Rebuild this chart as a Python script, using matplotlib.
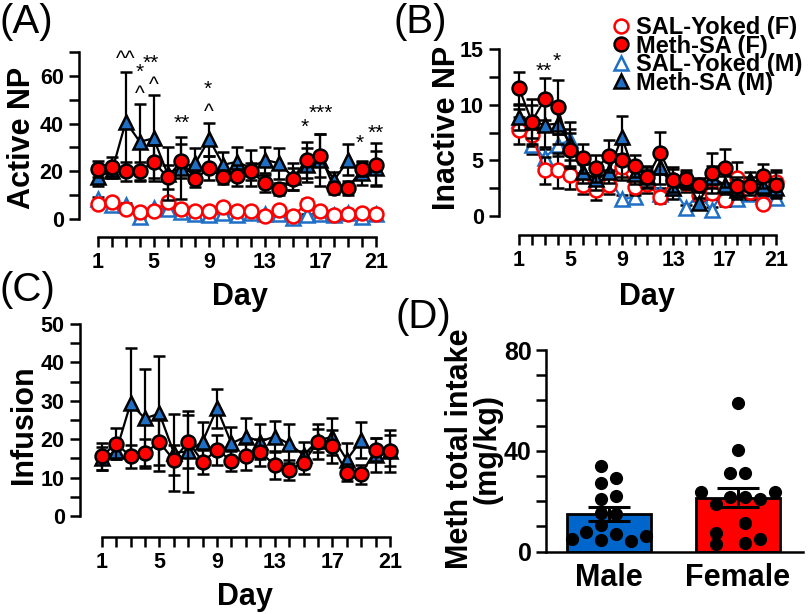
import numpy as np
import matplotlib
matplotlib.use("Agg")
import matplotlib.pyplot as plt
from matplotlib.lines import Line2D

plt.rcParams['font.family'] = ['Liberation Sans', 'DejaVu Sans']

days = np.arange(1, 22)

# (A) active nose pokes, mean and SEM per day
a_sal_f = [6.3, 7.0, 4.2, 3.1, 3.4, 7.0, 4.2, 3.4, 3.4, 4.9, 3.5, 3.5, 1.4, 3.8, 1.4, 6.2, 3.4, 1.7, 2.0, 2.4, 2.1]
a_sal_f_sem = [1.0, 1.0, 1.0, 0.8, 0.8, 1.5, 1.0, 0.8, 0.8, 1.0, 0.8, 0.8, 0.5, 0.8, 0.5, 2.2, 0.8, 0.5, 0.5, 0.5, 0.5]
a_meth_f = [21, 22, 20, 20, 24, 17.5, 24.3, 16.8, 21.3, 17.5, 18.2, 20, 15, 12.6, 16.8, 24.8, 26.6, 12.9, 13.1, 21, 22.7]
a_meth_f_sem = [3.5, 4, 4, 4, 7, 5, 7, 3.5, 5, 3, 4.5, 3.5, 3.5, 2.5, 4.5, 7.5, 9, 2.5, 3, 3, 9]
a_sal_m = [8.5, 6, 6, 1, 4.5, 4, 3, 2, 1.5, 2.5, 1.5, 2.5, 2, 2, 0.5, 1.5, 2, 1.5, 2.5, 1, 2]
a_sal_m_sem = [0.8, 0.6, 0.6, 0.4, 0.6, 0.6, 0.5, 0.4, 0.4, 0.5, 0.4, 0.5, 0.4, 0.4, 0.3, 0.4, 0.4, 0.4, 0.5, 0.3, 0.4]
a_meth_m = [17.8, 20, 40.8, 32.4, 33.8, 19, 21.5, 23.4, 33.4, 22.7, 24, 21.3, 24.8, 23.4, 17.8, 22.7, 24.8, 16.4, 24.8, 19.2, 21.3]
a_meth_m_sem = [4, 3, 21, 16, 18, 11, 13, 6.5, 7, 5.5, 6, 7.5, 5.5, 6.5, 5.5, 7, 11, 3.5, 6.5, 5, 7]

# (B) inactive nose pokes
b_sal_f = [7.7, 7.3, 4.1, 4.1, 3.7, 2.8, 2.3, 2.8, 4.4, 2.6, 2.9, 1.7, 3.2, 3.0, 1.9, 2.1, 1.4, 3.4, 2.2, 1.1, 3.1]
b_sal_f_sem = [1.2, 1.0, 1.2, 1.6, 1.3, 0.8, 0.9, 0.8, 1.2, 0.7, 0.8, 0.5, 1.2, 0.8, 0.5, 0.6, 0.5, 1.5, 0.7, 0.3, 1.0]
b_meth_f = [11.5, 8.5, 10.5, 9.8, 5.9, 5.2, 4.3, 5.4, 5.0, 4.5, 3.5, 5.7, 3.2, 3.3, 2.8, 3.9, 4.3, 2.7, 2.7, 3.6, 2.8]
b_meth_f_sem = [1.5, 2.0, 1.9, 2.4, 1.6, 1.3, 1.2, 1.4, 1.5, 1.0, 1.0, 1.9, 1.0, 0.8, 0.6, 1.8, 1.7, 0.8, 0.8, 1.1, 1.2]
b_sal_m = [8.6, 6.4, 5.2, 6.4, 6.8, 4.0, 3.0, 3.5, 1.5, 1.7, 3.5, 2.0, 2.5, 0.7, 2.0, 0.5, 2.5, 1.5, 2.0, 1.8, 1.6]
b_sal_m_sem = [1.0, 0.8, 0.8, 1.0, 1.0, 0.7, 0.6, 0.6, 0.4, 0.4, 0.6, 0.5, 0.5, 0.3, 0.5, 0.3, 0.5, 0.4, 0.4, 0.4, 0.4]
b_meth_m = [8.9, 8.5, 8.2, 8.3, 6.5, 4.0, 3.3, 4.0, 7.1, 3.8, 3.5, 4.4, 2.5, 3.2, 1.2, 3.5, 2.8, 2.3, 3.2, 2.7, 2.5]
b_meth_m_sem = [1.2, 1.5, 2.0, 1.8, 2.0, 1.0, 1.0, 1.0, 1.9, 0.9, 0.9, 1.5, 1.0, 0.8, 0.4, 1.0, 0.8, 0.8, 0.8, 0.8, 0.8]

# (C) infusions
c_meth_f = [15.6, 18.8, 15.6, 16.5, 19.2, 14.6, 19.4, 14.1, 17.2, 14.4, 15.5, 16.6, 13.3, 12.0, 13.9, 19.4, 18.1, 11.3, 10.9, 17.2, 17.0]
c_meth_f_sem = [3.5, 4, 3, 3.5, 6, 4, 7, 3.2, 4, 2.6, 3.5, 3.5, 3.6, 2.5, 3, 4.5, 4.2, 2.3, 2.5, 3, 5.5]
c_meth_m = [15, 16.8, 29.3, 25.4, 26.7, 16.5, 16.8, 19.4, 28, 18.9, 20.7, 19.4, 20.7, 18.8, 15.9, 19.6, 20.7, 14.6, 19.8, 15.9, 17]
c_meth_m_sem = [3, 2, 14.5, 12.8, 15, 10, 10.5, 5.2, 5.2, 4.2, 4.7, 4.6, 4.1, 5.1, 3.5, 3, 4.7, 4.3, 4.8, 4.5, 4]

# (D) total meth intake per animal (mg/kg)
groups = ['Male', 'Female']
male_intake = [34.0, 27.4, 29.4, 20.8, 21.9, 15.2, 15.0, 10.6, 8.0, 7.0, 4.9, 4.6, 4.4, 6.2]
female_intake = [59.0, 40.4, 31.4, 31.4, 23.6, 23.6, 21.5, 21.6, 20.8, 18.8, 11.3, 7.6, 4.9, 3.6, 2.9]
# swarm slots (in dot widths) so the dots sit side by side like the original
male_slots = [-0.5, -0.5, 0.5, -0.5, 0.5, -0.5, 0.5, -0.5, -1.5, 0.5, -2.5, -0.5, 1.5, 2.5]
female_slots = [0, 0, -0.5, 0.5, -2.5, 2.5, -0.5, 0.5, 1.5, -1.5, 0.5, -1.5, 1.5, 0.5, -1.5]

# significance marks (day, y, text)
a_marks = [(3, 66.7, '^^'), (4, 61.4, '*'), (4.8, 65.3, '**'), (4, 52.3, '^'), (5, 55.8, '^'),
           (7, 40.1, '**'), (8.9, 54.4, '*'), (9, 44.6, '^'), (15.9, 38.3, '*'),
           (17, 44.3, '***'), (19.85, 31.7, '*'), (21, 35.9, '**')]
b_marks = [(2.9, 13.0, '**'), (3.9, 13.9, '*')]

RED = '#FF0000'
BLUE = '#1F6FC5'

STYLES = {
    'sal_f': dict(marker='o', mfc='white', mec=RED, color=RED, z=2.5),
    'meth_f': dict(marker='o', mfc=RED, mec='black', color='black', z=4.5),
    'sal_m': dict(marker='^', mfc='white', mec=BLUE, color=BLUE, z=2),
    'meth_m': dict(marker='^', mfc=BLUE, mec='black', color='black', z=4),
}


def draw_series(ax, y, err, kind):
    st = STYLES[kind]
    ms = 10 if st['marker'] == 'o' else 10.5
    cont = ax.errorbar(days, y, yerr=err, marker=st['marker'], ms=ms, mfc=st['mfc'], mec=st['mec'],
                       mew=1.8, color=st['color'], lw=1.6, ecolor='black', elinewidth=1.6,
                       capsize=4.5, capthick=1.6, zorder=st['z'])
    for art in cont.get_children():
        art.set_clip_on(False)


def setup_day_axes(ax, xlim, ymax, step, label_step, outward, ylabel, ylab_xy, xlab_xy):
    ax.set_xlim(*xlim)
    ax.set_ylim(0, ymax)
    for s in ['top', 'right']:
        ax.spines[s].set_visible(False)
    for s in ['left', 'bottom']:
        ax.spines[s].set_linewidth(1.8)
    ax.spines['left'].set_bounds(0, ymax)
    ax.spines['bottom'].set_position(('outward', outward))
    ax.spines['bottom'].set_bounds(1, 21)
    ax.set_xticks(days)
    ax.set_xticklabels([str(d) if d % 4 == 1 else '' for d in days])
    yt = np.arange(0, ymax + 1e-9, step)
    ax.set_yticks(yt)
    ax.set_yticklabels([f'{v:g}' if v % label_step == 0 else '' for v in yt])
    ax.tick_params(width=1.8, length=7, labelsize=15.5, pad=4)
    for lab in ax.get_xticklabels() + ax.get_yticklabels():
        lab.set_fontweight('bold')
    ax.set_ylabel(ylabel, fontsize=22, fontweight='bold', va='center')
    ax.yaxis.set_label_coords(*ylab_xy)
    ax.set_xlabel('Day', fontsize=22, fontweight='bold', va='center')
    ax.xaxis.set_label_coords(*xlab_xy)


fig = plt.figure(figsize=(8.09, 6.14), dpi=100)
W, H = 809, 614


def add_axes_px(left, top, right, bottom):
    return fig.add_axes([left / W, 1 - bottom / H, (right - left) / W, (bottom - top) / H])


# ---- (A)
ax_a = add_axes_px(79, 52, 388, 219)
draw_series(ax_a, a_sal_m, a_sal_m_sem, 'sal_m')
draw_series(ax_a, a_sal_f, a_sal_f_sem, 'sal_f')
draw_series(ax_a, a_meth_m, a_meth_m_sem, 'meth_m')
draw_series(ax_a, a_meth_f, a_meth_f_sem, 'meth_f')
setup_day_axes(ax_a, (-0.367, 21.86), 70, 10, 20, 13, 'Active NP', (-0.184, 0.485), (0.521, -0.467))
for d, yv, s in a_marks:
    ax_a.text(d, yv, s, ha='center', va='center', fontsize=15)

# ---- (B)
ax_b = add_axes_px(499, 49.3, 790, 216)
draw_series(ax_b, b_sal_m, b_sal_m_sem, 'sal_m')
draw_series(ax_b, b_sal_f, b_sal_f_sem, 'sal_f')
draw_series(ax_b, b_meth_m, b_meth_m_sem, 'meth_m')
draw_series(ax_b, b_meth_f, b_meth_f_sem, 'meth_f')
setup_day_axes(ax_b, (-0.556, 22.09), 15, 2.5, 5, 13.7, 'Inactive NP', (-0.177, 0.528), (0.51, -0.486))
for d, yv, s in b_marks:
    ax_b.text(d, yv, s, ha='center', va='center', fontsize=15)

# ---- (C)
ax_c = add_axes_px(80, 324, 400, 516)
draw_series(ax_c, c_meth_m, c_meth_m_sem, 'meth_m')
draw_series(ax_c, c_meth_f, c_meth_f_sem, 'meth_f')
setup_day_axes(ax_c, (-0.506, 21.69), 50, 5, 10, 15, 'Infusion', (-0.175, 0.474), (0.516, -0.422))

# ---- (D)
ax_d = add_axes_px(545.7, 350, 803, 551.7)
pos = np.arange(len(groups))
data_d = [np.array(male_intake), np.array(female_intake)]
means = [v.mean() for v in data_d]
sems = [v.std(ddof=1) / np.sqrt(len(v)) for v in data_d]
ax_d.bar(pos, means, width=0.654, color=['#0066CC', RED], edgecolor='black', linewidth=2, zorder=2)
for p, vals, slots in zip(pos, data_d, [male_slots, female_slots]):
    ax_d.scatter(p + np.array(slots) * 0.116, vals, s=72, color='black', zorder=3, clip_on=False)
ax_d.errorbar(pos, means, yerr=sems, fmt='none', ecolor='black', elinewidth=2.2, capsize=15,
              capthick=2.2, zorder=4)
ax_d.set_xlim(-0.49, 1.504)
ax_d.set_ylim(0, 80)
for s in ['top', 'right']:
    ax_d.spines[s].set_visible(False)
for s in ['left', 'bottom']:
    ax_d.spines[s].set_linewidth(1.8)
ax_d.set_yticks(np.arange(0, 81, 10))
ax_d.set_yticklabels([f'{v}' if v % 40 == 0 else '' for v in range(0, 81, 10)])
ax_d.set_xticks(pos)
ax_d.set_xticklabels(groups)
ax_d.tick_params(axis='y', width=1.8, length=7, labelsize=18, pad=3)
ax_d.tick_params(axis='x', length=0, labelsize=22, pad=8)
for lab in ax_d.get_xticklabels() + ax_d.get_yticklabels():
    lab.set_fontweight('bold')
ax_d.set_ylabel('Meth total intake\n(mg/kg)', fontsize=22, fontweight='bold', va='center',
                linespacing=0.9)
ax_d.yaxis.set_label_coords(-0.279, 0.509)

# ---- legend
handles = [Line2D([], [], ls='none', marker=STYLES[k]['marker'], ms=10, mfc=STYLES[k]['mfc'],
                  mec=STYLES[k]['mec'], mew=1.8) for k in ['sal_f', 'meth_f', 'sal_m', 'meth_m']]
labels = ['SAL-Yoked (F)', 'Meth-SA (F)', 'SAL-Yoked (M)', 'Meth-SA (M)']
fig.legend(handles, labels, loc='upper left', bbox_to_anchor=(612 / W, 1 - 16 / H), frameon=False,
           prop=dict(weight='bold', size=17), handletextpad=0.2, handlelength=0.8,
           labelspacing=-0.19, borderpad=0, borderaxespad=0)

# ---- panel letters
for x, y, s in [(0, 3, '(A)'), (393, 3, '(B)'), (0, 271, '(C)'), (395, 298, '(D)')]:
    fig.text(x / W, 1 - y / H, s, ha='left', va='top', fontsize=29)

fig.savefig('out.png', dpi=100)
